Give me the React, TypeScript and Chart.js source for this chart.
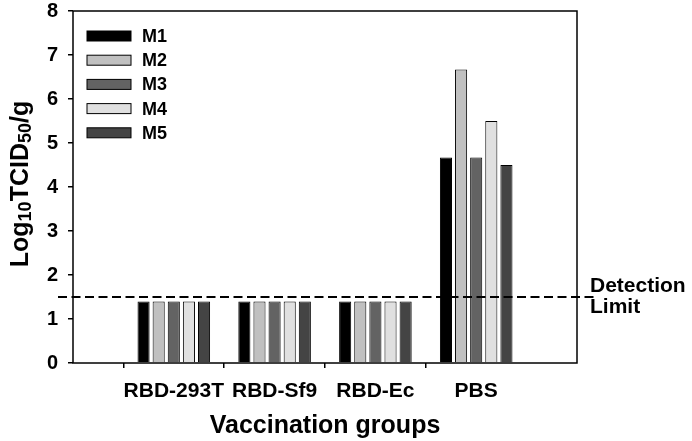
import React, { useEffect, useRef } from "react";
import { Chart, registerables } from "chart.js";

Chart.register(...registerables);

const groups = ["RBD-293T", "RBD-Sf9", "RBD-Ec", "PBS"];
const seriesNames = ["M1", "M2", "M3", "M4", "M5"];
const M1 = [1.4, 1.4, 1.4, 4.67];
const M2 = [1.4, 1.4, 1.4, 6.67];
const M3 = [1.4, 1.4, 1.4, 4.67];
const M4 = [1.4, 1.4, 1.4, 5.5];
const M5 = [1.4, 1.4, 1.4, 4.5];
const seriesColors = ["#000000", "#c0c0c0", "#636363", "#e0e0e0", "#444444"];
const yTicks = [0, 1, 2, 3, 4, 5, 6, 7, 8];
const detectionLimit = 1.5;

const FONT = '"Liberation Sans", Arial, sans-serif';

const framePlugin = {
  id: "frameAndText",
  afterDatasetsDraw(chart: any) {
    const { ctx, chartArea } = chart;
    const { left, right, top, bottom } = chartArea;
    const y = chart.scales.y;
    ctx.save();
    // frame
    ctx.strokeStyle = "#000";
    ctx.lineWidth = 1.5;
    ctx.strokeRect(left, top, right - left, bottom - top);
    // detection limit line
    const yl = y.getPixelForValue(detectionLimit);
    ctx.setLineDash([9, 4.5]);
    ctx.lineWidth = 2;
    ctx.beginPath();
    ctx.moveTo(left - 15, yl);
    ctx.lineTo(right + 18, yl);
    ctx.stroke();
    ctx.setLineDash([]);
    // detection limit text
    ctx.fillStyle = "#000";
    ctx.font = `bold 21px ${FONT}`;
    ctx.textAlign = "left";
    ctx.textBaseline = "alphabetic";
    ctx.fillText("Detection", right + 13, yl - 5);
    ctx.fillText("Limit", right + 13, yl + 16);
    // legend
    chart.data.datasets.forEach((ds: any, i: number) => {
      const cy = top + 25 + i * 24.2;
      ctx.fillStyle = ds.backgroundColor;
      ctx.fillRect(left + 14, cy - 5, 44, 10);
      ctx.strokeStyle = "#000";
      ctx.lineWidth = 1;
      ctx.strokeRect(left + 14, cy - 5, 44, 10);
      ctx.fillStyle = "#000";
      ctx.font = `bold 18px ${FONT}`;
      ctx.textBaseline = "middle";
      ctx.fillText(ds.label, left + 69, cy + 1);
    });
    // x title
    ctx.font = `bold 25px ${FONT}`;
    ctx.textAlign = "center";
    ctx.textBaseline = "alphabetic";
    ctx.fillText("Vaccination groups", (left + right) / 2, 433);
    // y title with subscripts
    const parts: [string, boolean][] = [
      ["Log", false],
      ["10", true],
      ["TCID", false],
      ["50", true],
      ["/g", false],
    ];
    const mainFont = `bold 25px ${FONT}`;
    const subFont = `bold 18px ${FONT}`;
    let total = 0;
    const widths = parts.map(([t, sub]) => {
      ctx.font = sub ? subFont : mainFont;
      const w = ctx.measureText(t).width;
      total += w;
      return w;
    });
    ctx.translate(28, (top + bottom) / 2 - 3);
    ctx.rotate(-Math.PI / 2);
    ctx.textAlign = "left";
    let x = -total / 2;
    parts.forEach(([t, sub], i) => {
      ctx.font = sub ? subFont : mainFont;
      ctx.fillText(t, x, sub ? 3 : 0);
      x += widths[i];
    });
    ctx.restore();
  },
};

export default function App() {
  const ref = useRef<HTMLCanvasElement | null>(null);
  useEffect(() => {
    if (!ref.current) return;
    const all = [M1, M2, M3, M4, M5];
    const labels = ["", ...groups, ""];
    const chart = new Chart(ref.current, {
      type: "bar",
      data: {
        labels,
        datasets: all.map((vals, i) => ({
          label: seriesNames[i],
          data: [null, ...vals, null],
          backgroundColor: seriesColors[i],
          borderColor: "#000",
          borderWidth: 1,
          categoryPercentage: 0.75,
          barPercentage: 0.8,
        })),
      },
      options: {
        responsive: false,
        animation: false,
        layout: { padding: { top: 11, right: 115, bottom: 0, left: 0 } },
        plugins: {
          legend: { display: false },
          tooltip: { enabled: false },
        },
        scales: {
          x: {
            type: "category",
            offset: false,
            border: { display: false },
            grid: {
              drawOnChartArea: false,
              drawTicks: true,
              tickLength: 5,
              lineWidth: 1.5,
              tickColor: (c: any) =>
                c.index === 0 || c.index === labels.length - 1 ? "rgba(0,0,0,0)" : "#000",
            },
            ticks: {
              color: "#000",
              padding: 11,
              maxRotation: 0,
              autoSkip: false,
              font: { family: FONT, size: 21, weight: "bold" },
            },
            afterFit: (s: any) => {
              s.height = 78;
              s.paddingLeft = 0;
              s.paddingRight = 0;
            },
          },
          y: {
            min: 0,
            max: 8,
            border: { display: false },
            afterBuildTicks: (s: any) => {
              s.ticks = yTicks.map((v) => ({ value: v }));
            },
            grid: {
              drawOnChartArea: false,
              drawTicks: true,
              tickLength: 5,
              lineWidth: 1.5,
              tickColor: "#000",
            },
            ticks: {
              color: "#000",
              padding: 10,
              font: { family: FONT, size: 20, weight: "bold" },
            },
            afterFit: (s: any) => {
              s.width = 73;
              s.paddingTop = 0;
              s.paddingBottom = 0;
            },
          },
        },
      },
      plugins: [framePlugin],
    });
    return () => chart.destroy();
  }, []);
  return (
    <div style={{ position: "fixed", left: 0, top: 0, width: 692, height: 441, background: "#fff" }}>
      <canvas ref={ref} width={692} height={441} />
    </div>
  );
}
